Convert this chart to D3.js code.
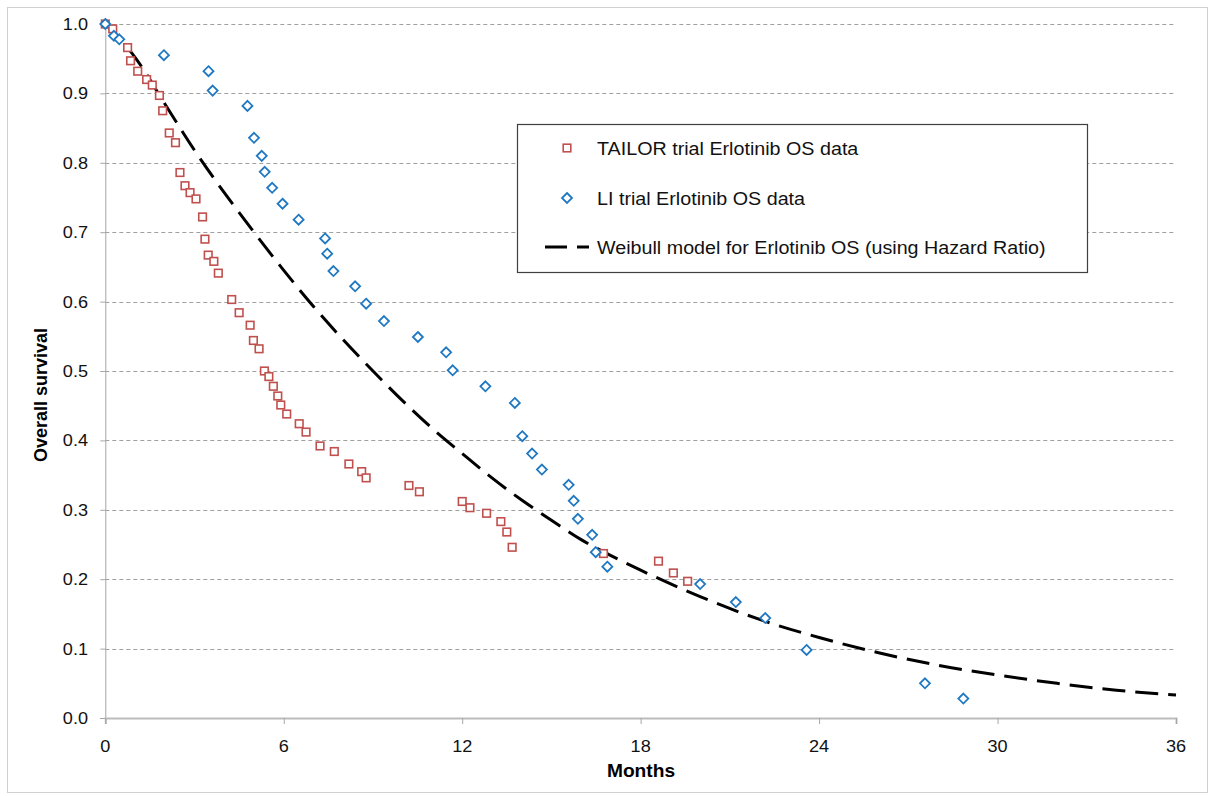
<!DOCTYPE html>
<html><head><meta charset="utf-8">
<script src="https://cdn.jsdelivr.net/npm/d3@7"></script>
<style>html,body{margin:0;padding:0;background:#fff;}svg{display:block;font-family:"Liberation Sans",Arial,sans-serif;}</style>
</head><body>
<svg id="c" width="1215" height="796"></svg>
<script>
// ---- data ----
const tailorMonths = [0,0.25,0.75,0.85,1.09,1.39,1.58,1.82,1.93,2.15,2.36,2.51,2.68,2.85,3.05,3.27,3.35,3.46,3.65,3.80,4.25,4.50,4.87,4.98,5.17,5.35,5.50,5.65,5.80,5.90,6.10,6.52,6.75,7.22,7.70,8.19,8.62,8.77,10.21,10.56,12.0,12.26,12.82,13.30,13.50,13.68,16.75,18.6,19.10,19.58];
const tailorSurvival = [1.0,0.993,0.966,0.947,0.932,0.920,0.912,0.897,0.875,0.843,0.829,0.786,0.767,0.757,0.748,0.722,0.690,0.667,0.658,0.641,0.603,0.584,0.566,0.544,0.532,0.500,0.492,0.478,0.464,0.451,0.438,0.424,0.412,0.392,0.384,0.366,0.355,0.346,0.335,0.326,0.312,0.303,0.295,0.283,0.268,0.246,0.237,0.226,0.209,0.197];
const liMonths = [0,0.29,0.47,1.97,3.47,3.61,4.78,5.0,5.26,5.36,5.61,5.96,6.50,7.39,7.46,7.67,8.40,8.77,9.37,10.51,11.46,11.68,12.78,13.77,14.02,14.35,14.68,15.58,15.75,15.89,16.37,16.49,16.88,20.0,21.2,22.19,23.58,27.56,28.85];
const liSurvival = [1.0,0.983,0.978,0.955,0.932,0.904,0.882,0.836,0.810,0.787,0.764,0.741,0.718,0.691,0.669,0.644,0.622,0.597,0.572,0.549,0.527,0.501,0.478,0.454,0.406,0.381,0.358,0.336,0.313,0.287,0.264,0.239,0.218,0.193,0.167,0.144,0.098,0.050,0.028];
const weibullMonths = [0,1,2,3,4,5,6,7,8,9,10,11,12,13,14,15,16,17,18,20,22,24,26,28,30,32,34,36];
const weibullSurvival = [1.0,0.952,0.885,0.818,0.757,0.700,0.645,0.593,0.545,0.500,0.457,0.417,0.381,0.346,0.314,0.285,0.257,0.234,0.213,0.175,0.142,0.116,0.094,0.076,0.062,0.050,0.040,0.033];
const xTicks = [0,6,12,18,24,30,36];
const yTicks = [0,0.1,0.2,0.3,0.4,0.5,0.6,0.7,0.8,0.9,1.0];
const seriesNames = ["TAILOR trial Erlotinib OS data","LI trial Erlotinib OS data","Weibull model for Erlotinib OS (using Hazard Ratio)"];
const xTitle = "Months", yTitle = "Overall survival";

// ---- layout ----
const svg = d3.select("#c");
const SX = 1.065; // horizontal text stretch of the reference
const x = d3.scaleLinear().domain([0,36]).range([105.3,1176]);
const y = d3.scaleLinear().domain([0,1]).range([718,24]);
const red = "#c0504d", blue = "#1f78c1";

function htext(g, px, py, str, opts) {
  const t = g.append("text").attr("transform", `translate(${px},${py}) scale(${SX},1)`).text(str)
    .attr("font-size", opts.size).attr("fill", opts.fill || "#000")
    .attr("text-anchor", opts.anchor || "start");
  if (opts.weight) t.attr("font-weight", opts.weight);
  return t;
}

// outer frame
svg.append("rect").attr("x",7.5).attr("y",7.5).attr("width",1200).attr("height",785)
  .attr("fill","#fff").attr("stroke","#d0d0d0").attr("stroke-width",1);

// gridlines
svg.append("g").selectAll("line").data(yTicks.filter(d=>d>0)).join("line")
  .attr("x1",x(0)).attr("x2",x(36)).attr("y1",d=>Math.round(y(d))+0.5).attr("y2",d=>Math.round(y(d))+0.5)
  .attr("stroke","#a0a0a0").attr("stroke-width",1).attr("stroke-dasharray","4,3");

// y axis
const ya = svg.append("g").attr("transform",`translate(${x(0)},0)`)
  .call(d3.axisLeft(y).tickValues(yTicks).tickSize(5).tickFormat(""));
ya.select(".domain").attr("stroke","#a6a6a6").attr("stroke-width",1);
ya.selectAll(".tick line").attr("stroke","#a6a6a6");
yTicks.forEach(v => htext(svg, 88, y(v)+6, d3.format(".1f")(v), {size:"17px", anchor:"end", fill:"#111"}));

// x axis
const xa = svg.append("g").attr("transform",`translate(0,${y(0)})`)
  .call(d3.axisBottom(x).tickValues(xTicks).tickSize(6).tickFormat(""));
xa.select(".domain").attr("stroke","#bcbcbc").attr("stroke-width",2);
xa.selectAll(".tick line").attr("stroke","#a6a6a6");
xTicks.forEach(v => htext(svg, x(v), 752, String(v), {size:"17px", anchor:"middle", fill:"#111"}));

// axis titles
htext(svg, 641, 777, xTitle, {size:"18px", anchor:"middle", weight:"bold"});
svg.append("text").attr("transform","translate(47,395) rotate(-90)").attr("text-anchor","middle")
  .attr("font-size","18px").attr("font-weight","bold").text(yTitle);

// weibull line
const wData = weibullMonths.map((m,i)=>[m,weibullSurvival[i]]);
svg.append("path").datum(wData)
  .attr("d", d3.line().x(d=>x(d[0])).y(d=>y(d[1])).curve(d3.curveMonotoneX))
  .attr("fill","none").attr("stroke","#000").attr("stroke-width",3).attr("stroke-dasharray","23,10");

// TAILOR squares
const tData = tailorMonths.map((m,i)=>[m,tailorSurvival[i]]);
svg.append("g").selectAll("rect").data(tData).join("rect")
  .attr("x",d=>x(d[0])-3.8).attr("y",d=>y(d[1])-3.8).attr("width",7.6).attr("height",7.6)
  .attr("fill","#fff").attr("stroke",red).attr("stroke-width",1.6);

// LI diamonds
const lData = liMonths.map((m,i)=>[m,liSurvival[i]]);
const dia = "M0,-5L5,0L0,5L-5,0Z";
svg.append("g").selectAll("path").data(lData).join("path")
  .attr("transform",d=>`translate(${x(d[0])},${y(d[1])})`).attr("d",dia)
  .attr("fill","#fff").attr("stroke",blue).attr("stroke-width",1.8);

// legend
const lg = svg.append("g");
lg.append("rect").attr("x",517.5).attr("y",124.5).attr("width",570).attr("height",148)
  .attr("fill","#fff").attr("stroke","#404040").attr("stroke-width",1.2);
lg.append("rect").attr("x",567-3.8).attr("y",148-3.8).attr("width",7.6).attr("height",7.6)
  .attr("fill","#fff").attr("stroke",red).attr("stroke-width",1.6);
lg.append("path").attr("transform","translate(567,198)").attr("d",dia)
  .attr("fill","#fff").attr("stroke",blue).attr("stroke-width",1.8);
lg.append("line").attr("x1",545).attr("x2",589).attr("y1",247).attr("y2",247)
  .attr("stroke","#000").attr("stroke-width",3).attr("stroke-dasharray","22,10");
[148,198,247].forEach((yy,i)=>htext(lg, 597, yy+6.5, seriesNames[i], {size:"18.5px", fill:"#111"}));
</script>
</body></html>
